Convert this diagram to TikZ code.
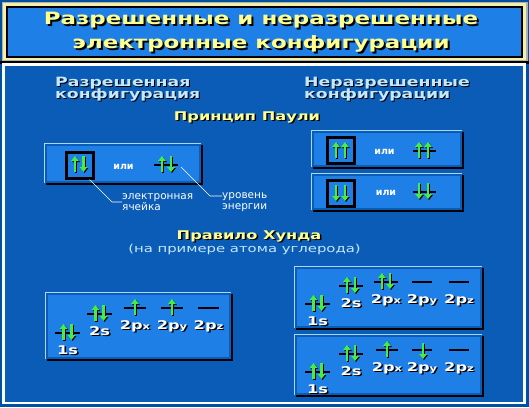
\documentclass[tikz,border=0pt]{standalone}
\usepackage{fontspec}
\setmainfont{DejaVu Sans}
\newfontfamily\pixfont[FakeStretch=1.35]{DejaVu Sans}
\usetikzlibrary{arrows.meta}

\definecolor{outerblue}{HTML}{0050A4}
\definecolor{mainblue}{HTML}{0A5CB6}
\definecolor{panelblue}{HTML}{1E80E6}
\definecolor{edgecyan}{HTML}{A8D8F8}
\definecolor{titlegrey}{HTML}{B0B0B0}
\definecolor{paleyellow}{HTML}{F4F0A8}
\definecolor{textyellow}{HTML}{FFFF90}
\definecolor{textcyan}{HTML}{C4E8FF}
\definecolor{spingreen}{HTML}{44EE44}

%% a raised blue panel: corners x1 y1 x2 y2 (in pixels, y going down)
\newcommand{\bluepanel}[4]{%
  \fill[black] (#1+2,#2+2) rectangle (#3+2,#4+2);
  \fill[edgecyan] (#1,#2) rectangle (#3,#4);
  \fill[mainblue] (#1+1,#2+1) rectangle (#3,#4);
  \fill[panelblue] (#1+3,#2+3) rectangle (#3-2,#4-2);
}
%% text with a black shadow behind it, offset in pt
\newcommand{\shadowed}[2]{%
  \makebox[0pt][l]{\hspace{#1pt}\raisebox{-#1pt}{\textcolor{black}{#2}}}#2}
%% let two lines of a heading sit close together
\newcommand{\tightlines}{\lineskiplimit=-20pt\relax}
%% spin arrows, x and the y of their middle
\newcommand{\spinup}[2]{%
  \draw[spin,black] (#1+1,#2+9) -- (#1+1,#2-7);
  \draw[spin,spingreen] (#1,#2+8) -- (#1,#2-8);
}
\newcommand{\spindn}[2]{%
  \draw[spin,black] (#1+1,#2-7) -- (#1+1,#2+9);
  \draw[spin,spingreen] (#1,#2-8) -- (#1,#2+8);
}
%% an energy level with its label: name, x1, x2, y, label
\newcommand{\orbital}[5]{%
  \draw[level] (#2,#4) -- (#3,#4);
  \node[orbtext] (#1) at ({(#2+#3)/2},#4+21) {\shadowed{1.5}{#5}};
}
\newcommand{\orb}[1]{2p{\fontsize{8.5}{8.5}\selectfont #1}}

\begin{document}
\begin{tikzpicture}[x=1pt,y=-1pt,
  every node/.style={inner sep=0pt},
  titletext/.style={font=\pixfont\bfseries\fontsize{17}{24}\selectfont,text=textyellow,align=center,anchor=north},
  headtext/.style={font=\pixfont\bfseries\fontsize{12.8}{12.5}\selectfont\tightlines,text=textcyan,align=left,anchor=north west},
  ruletext/.style={font=\pixfont\bfseries\fontsize{12}{12}\selectfont,text=textyellow,anchor=base},
  subtext/.style={font=\pixfont\fontsize{11}{11}\selectfont,text=textcyan,anchor=base},
  smalltext/.style={font=\fontsize{10.5}{11.5}\selectfont,text=white,align=left,anchor=west},
  ortext/.style={font=\bfseries\fontsize{9.5}{9.5}\selectfont,text=white,anchor=base},
  orbtext/.style={font=\pixfont\bfseries\fontsize{12}{12}\selectfont,text=white,anchor=base},
  cellbox/.style={draw=black,line width=3pt,minimum width=27pt,minimum height=26pt},
  level/.style={draw=black,line width=2pt},
  spin/.style={line width=2.5pt,-{Triangle[width=7.5pt,length=5pt]}},
  leader/.style={draw=white,line width=0.6pt}]

%% background, title plate and the main frame
\useasboundingbox (0,0) rectangle (529,407);
\fill[outerblue] (0,0) rectangle (529,407);
\fill[titlegrey] (1.5,1.5) rectangle (527.5,61);
\fill[paleyellow] (3,3) rectangle (526,59.5);
\fill[black] (6,6) rectangle (523,58);
\fill[panelblue] (8,8) rectangle (521,56);
\fill[black] (0,60.5) rectangle (529,63.5);
\draw[white,line width=2.5pt,fill=mainblue] (3.3,64.3) rectangle (524.7,403);

\node[titletext] (title) at (261,11.6)
  {\shadowed{2}{Разрешенные и неразрешенные}\\\shadowed{2}{электронные конфигурации}};

%% column headings
\node[headtext] (allowed) at (55,76.7) {\shadowed{1}{Разрешенная}\\\shadowed{1}{конфигурация}};
\node[headtext] (forbid) at (304,76.7) {\shadowed{1}{Неразрешенные}\\\shadowed{1}{конфигурации}};

%% Pauli principle
\node[ruletext] (pauli) at (247,120) {\shadowed{1.5}{Принцип Паули}};

\bluepanel{44}{143}{201}{183}
\node[cellbox] (cellA) at (79.5,165) {};
\spinup{75}{164}
\spindn{83.5}{164}
\node[ortext] (orA) at (123.5,169.5) {или};
\draw[level] (154,165) -- (178,165);
\spinup{162}{164}
\spindn{171}{164}
\coordinate (levA) at (181,167);

%% the two callouts
\coordinate (cellbend) at (112,202);
\node[smalltext] (celltext) at (122,202) {электронная\\ячейка};
\draw[leader] ([xshift=-5pt]cellA.south east) -- (cellbend) -- (celltext.west);
\coordinate (levbend) at (210,196);
\node[smalltext] (levtext) at (222,202) {уровень\\энергии};
\draw[leader] (levA) -- (levbend) -- (levtext.west |- levbend);

\bluepanel{311}{130}{462}{167}
\node[cellbox] (cellB1) at (340.5,150.5) {};
\spinup{336}{150}
\spinup{345}{150}
\node[ortext] (orB1) at (384.5,154) {или};
\draw[level] (413,151) -- (436,151);
\spinup{419}{150}
\spinup{428}{150}

\bluepanel{311}{173}{462}{210}
\node[cellbox] (cellB2) at (340.5,193.5) {};
\spindn{336}{193}
\spindn{345}{193}
\node[ortext] (orB2) at (386,195.5) {или};
\draw[level] (413,192) -- (436,192);
\spindn{419}{191}
\spindn{428}{191}

%% Hund's rule
\node[ruletext] (hund) at (249,239) {\shadowed{1.5}{Правило Хунда}};
\node[subtext] (hundsub) at (244.5,252) {(на примере атома углерода)};

\bluepanel{45}{292}{231}{359}
\orbital{c1s}{55}{80}{333}{1s}
\spinup{63.5}{332}
\spindn{71.5}{332}
\orbital{c2s}{87}{112}{314}{2s}
\spinup{95.5}{313}
\spindn{103.5}{313}
\orbital{c2px}{124}{146}{308}{\orb{x}}
\spinup{135}{307}
\orbital{c2py}{161}{183}{308}{\orb{y}}
\spinup{172}{307}
\orbital{c2pz}{198}{219}{308}{\orb{z}}

\bluepanel{294}{266}{482}{328}
\orbital{d1s}{305}{330}{304}{1s}
\spinup{313.5}{303}
\spindn{321.5}{303}
\orbital{d2s}{339}{363}{286}{2s}
\spinup{347}{285}
\spindn{355}{285}
\orbital{d2px}{374}{398}{282}{\orb{x}}
\spinup{382}{281}
\spindn{390}{281}
\orbital{d2py}{412}{432}{282}{\orb{y}}
\orbital{d2pz}{449}{469}{282}{\orb{z}}

\bluepanel{294}{334}{482}{395}
\orbital{e1s}{305}{330}{372}{1s}
\spinup{313.5}{371}
\spindn{321.5}{371}
\orbital{e2s}{339}{363}{354}{2s}
\spinup{347}{353}
\spindn{355}{353}
\orbital{e2px}{376}{398}{350}{\orb{x}}
\spinup{387}{349}
\orbital{e2py}{412}{432}{350}{\orb{y}}
\spindn{423}{351}
\orbital{e2pz}{449}{469}{350}{\orb{z}}
\end{tikzpicture}
\end{document}
